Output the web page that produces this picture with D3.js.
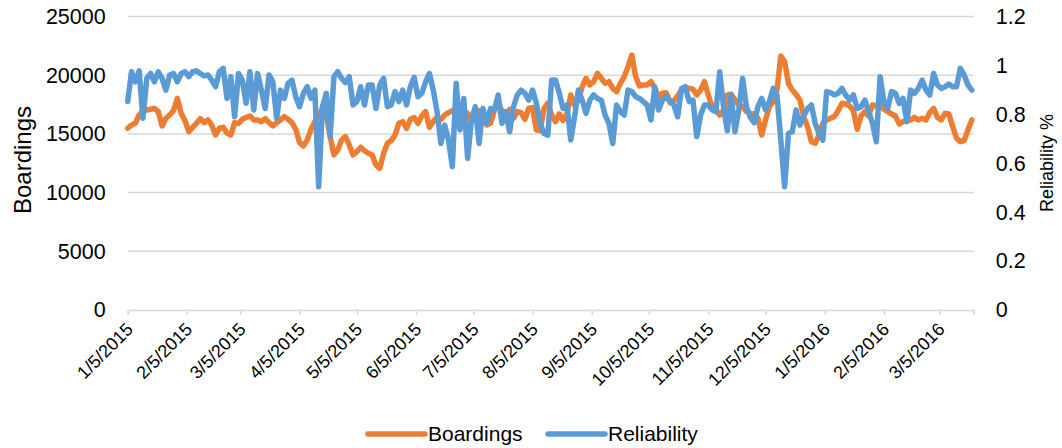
<!DOCTYPE html>
<html><head><meta charset="utf-8">
<script src="https://cdn.jsdelivr.net/npm/d3@7"></script>
<style>
body{margin:0;background:#fff;}
text{font-family:"Liberation Sans", Arial, sans-serif; fill:#000;}
</style>
</head><body>
<svg id="chart" width="1062" height="448"></svg>
<script>
// ---- data ----
const startDate = "2015-01-05";   // first observation
const stepDays = 2;
const axisEndDate = "2016-03-23"; // end of the date axis
const boardings = [
15480,15760,15900,16610,16980,17040,17100,17180,16900,15680,
16330,16610,16980,18030,16750,16130,15190,15560,15900,16300,
15960,16190,15760,14910,15480,15560,15050,14910,15960,15900,
16240,16390,16530,16190,16190,16040,16300,15960,15680,15960,
16190,16470,16240,15960,15390,14260,13970,14480,15390,16040,
16610,17180,16610,14770,13210,13630,14480,14770,14060,13210,
13490,13860,13570,13350,13210,12350,12070,13350,14200,14430,
14910,15900,16040,15480,16240,16390,15900,16530,16900,15560,
16040,16410,16240,16610,16810,16980,16610,15960,16040,16750,
16040,16700,16980,16240,15760,15900,17040,17550,16980,16240,
17100,16330,16900,16810,16240,17180,17240,15330,15280,17180,
17610,16610,16040,16700,16130,16700,18320,17460,17890,19030,
19740,19170,19450,20160,19740,19310,19450,18880,18600,19310,
19880,20730,21720,19880,19080,19170,19170,19450,18880,18170,
18460,18510,17660,17830,18230,18740,18880,18880,18800,18320,
18740,19450,18320,17320,17040,16610,17040,18320,18370,17890,
17460,17320,16900,16750,16700,16330,14910,16190,17320,17750,
18740,21640,21150,19310,18740,18370,17890,16470,15620,14340,
14200,14910,15900,16190,16330,16470,16980,17610,17550,17380,
16980,15390,16530,16900,16530,17460,17380,17610,17100,16900,
16700,16530,15850,16040,16190,16190,16410,16190,16330,16190,
16810,17180,16410,16190,16750,16700,15620,14630,14340,14430,
15330,16190
];
const reliability = [
.852,.974,.933,.978,.784,.947,.967,.933,.974,.947,
.899,.961,.967,.933,.967,.974,.954,.974,.978,.967,
.957,.961,.940,.913,.974,.988,.865,.954,.790,.967,
.940,.845,.974,.818,.967,.899,.824,.961,.933,.784,
.899,.865,.927,.940,.872,.831,.886,.913,.865,.899,
.504,.831,.886,.709,.954,.974,.947,.930,.954,.838,
.852,.913,.838,.920,.920,.824,.920,.947,.831,.838,
.893,.852,.899,.838,.913,.951,.872,.886,.933,.967,
.899,.811,.681,.756,.695,.586,.927,.736,.865,.620,
.777,.831,.681,.824,.763,.824,.818,.879,.763,.811,
.729,.831,.879,.899,.886,.858,.899,.845,.763,.722,
.715,.940,.940,.886,.824,.838,.695,.790,.899,.858,
.804,.858,.879,.865,.858,.797,.763,.681,.838,.811,
.797,.899,.893,.872,.865,.852,.838,.777,.913,.818,
.858,.872,.856,.838,.790,.906,.913,.852,.858,.709,
.797,.838,.838,.818,.811,.974,.831,.733,.879,.729,
.818,.947,.831,.788,.766,.831,.865,.818,.852,.906,
.879,.695,.504,.722,.729,.818,.756,.793,.824,.838,
.763,.722,.695,.893,.889,.879,.886,.906,.879,.858,
.879,.824,.831,.858,.811,.763,.688,.954,.852,.824,
.893,.886,.845,.865,.770,.899,.886,.906,.940,.899,
.879,.967,.920,.906,.913,.924,.913,.913,.988,.961,
.920,.899
];
const leftTicks = [0, 5000, 10000, 15000, 20000, 25000];
const rightTicks = [0, 0.2, 0.4, 0.6, 0.8, 1, 1.2];
const xTickLabels = ["1/5/2015","2/5/2015","3/5/2015","4/5/2015","5/5/2015","6/5/2015",
  "7/5/2015","8/5/2015","9/5/2015","10/5/2015","11/5/2015","12/5/2015",
  "1/5/2016","2/5/2016","3/5/2016"];
const seriesNames = ["Boardings", "Reliability"];
const colors = ["#ED7D31", "#5B9BD5"];

// ---- chart ----
const svg = d3.select("#chart");
const parseISO = d3.timeParse("%Y-%m-%d");
const parseMDY = d3.timeParse("%m/%d/%Y");
const start = parseISO(startDate);
const dates = boardings.map((_, i) => d3.timeDay.offset(start, i * stepDays));

const plot = {left: 127.7, right: 973.7, top: 16.5, bottom: 310};
const x = d3.scaleTime().domain([start, parseISO(axisEndDate)]).range([plot.left, plot.right]);
const yL = d3.scaleLinear().domain([0, 25000]).range([plot.bottom, plot.top]);
const yR = d3.scaleLinear().domain([0, 1.2]).range([plot.bottom, plot.top]);
const lineWidth = 5.5;

// gridlines
svg.append("g").selectAll("line").data(leftTicks.filter(d => d > 0)).join("line")
  .attr("x1", plot.left).attr("x2", plot.right)
  .attr("y1", d => yL(d)).attr("y2", d => yL(d))
  .attr("stroke", "#d9d9d9").attr("stroke-width", 1.5);

// x axis
const xTickDates = xTickLabels.map(s => parseMDY(s));
const xAxis = d3.axisBottom(x).tickValues(xTickDates).tickSize(5).tickFormat(() => "");
const gx = svg.append("g").attr("transform", `translate(0,${plot.bottom})`).call(xAxis);
gx.select(".domain").attr("stroke", "#d9d9d9").attr("stroke-width", 1.5);
gx.selectAll(".tick line").attr("stroke", "#d9d9d9").attr("stroke-width", 1.5);

svg.append("g").selectAll("text").data(xTickLabels).join("text")
  .attr("transform", (d, i) => `translate(${x(xTickDates[i]) + 2},${plot.bottom + 16}) rotate(-45)`)
  .attr("text-anchor", "end").attr("dy", "0.35em")
  .style("font-size", "18px").text(d => d);

// left axis labels
const gl = svg.append("g").attr("transform", `translate(${plot.left},0)`)
  .call(d3.axisLeft(yL).tickValues(leftTicks).tickSize(0).tickPadding(22).tickFormat(d3.format("d")));
gl.select(".domain").remove();
gl.selectAll("text").style("font-size", "21.5px").style("font-family", '"Liberation Sans", Arial, sans-serif').attr("fill", "#000");

// right axis labels
const gr = svg.append("g").attr("transform", `translate(${plot.right},0)`)
  .call(d3.axisRight(yR).tickValues(rightTicks).tickSize(0).tickPadding(22).tickFormat(d => d3.format("~g")(d)));
gr.select(".domain").remove();
gr.selectAll("text").style("font-size", "21.5px").style("font-family", '"Liberation Sans", Arial, sans-serif').attr("fill", "#000");

// axis titles
svg.append("text").attr("transform", "translate(23,160) rotate(-90)")
  .attr("text-anchor", "middle").attr("dy", "0.35em").style("font-size", "24px").text("Boardings");
svg.append("text").attr("transform", "translate(1047,163) rotate(-90)")
  .attr("text-anchor", "middle").attr("dy", "0.35em").style("font-size", "18px").text("Reliability %");

// lines
const lineB = d3.line().x((d, i) => x(dates[i])).y(d => yL(d));
const lineR = d3.line().x((d, i) => x(dates[i])).y(d => yR(d));
svg.append("path").datum(boardings).attr("d", lineB)
  .attr("fill", "none").attr("stroke", colors[0]).attr("stroke-width", lineWidth)
  .attr("stroke-linejoin", "round").attr("stroke-linecap", "round");
svg.append("path").datum(reliability).attr("d", lineR)
  .attr("fill", "none").attr("stroke", colors[1]).attr("stroke-width", lineWidth)
  .attr("stroke-linejoin", "round").attr("stroke-linecap", "round");

// legend
const legendItems = [{x: 368, name: seriesNames[0], c: colors[0]}, {x: 548, name: seriesNames[1], c: colors[1]}];
const lg = svg.append("g");
legendItems.forEach(it => {
  lg.append("line").attr("x1", it.x).attr("x2", it.x + 57).attr("y1", 434).attr("y2", 434)
    .attr("stroke", it.c).attr("stroke-width", lineWidth).attr("stroke-linecap", "round");
  lg.append("text").attr("x", it.x + 60).attr("y", 434).attr("dy", "0.35em")
    .style("font-size", "21px").text(it.name);
});
</script>
</body></html>
